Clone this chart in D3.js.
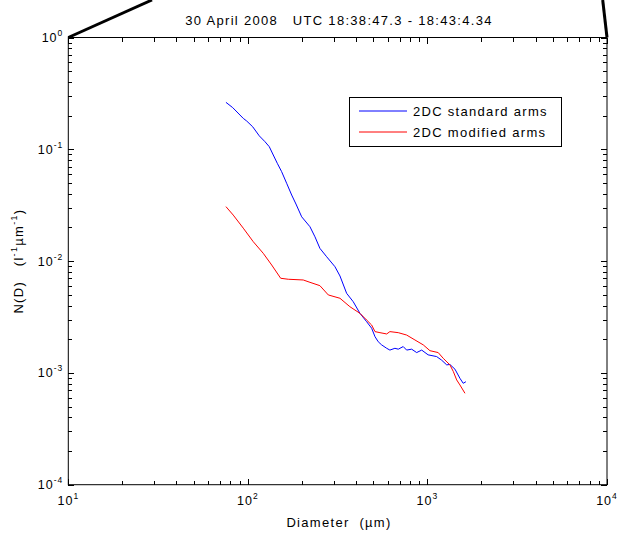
<!DOCTYPE html>
<html>
<head>
<meta charset="utf-8">
<script src="https://cdn.jsdelivr.net/npm/d3@7"></script>
<style>
  body { margin: 0; background: #fff; }
  text { font-family: "Liberation Sans", Arial, sans-serif; fill: #000; white-space: pre; }
</style>
</head>
<body>
<div id="chart"></div>
<script>
// data (diameter in um, N(D) in l^-1 um^-1)
const standardD = [75.5, 82.3, 94.3, 98.5, 106.4, 115.7, 124.5, 131.6, 138.5, 145.8, 154.2, 164.4, 175.4, 185.3, 199.4, 221.7, 236.4, 251.9, 274.6, 305.5, 325.8, 354.8, 386.2, 420.9, 458.6, 489, 510.5, 532, 556, 593, 618, 659, 688, 733, 766, 817, 871, 929, 1009, 1125, 1200, 1280, 1334, 1423, 1517, 1582, 1638]
const standardN = [0.263, 0.236, 0.189, 0.179, 0.159, 0.132, 0.117, 0.1055, 0.0889, 0.075, 0.0631, 0.0497, 0.039, 0.0324, 0.0249, 0.0203, 0.0165, 0.013, 0.01094, 0.00891, 0.00736, 0.00515, 0.00433, 0.00341, 0.00287, 0.00251, 0.00211, 0.0019, 0.00178, 0.00166, 0.0016, 0.00166, 0.00163, 0.00172, 0.0016, 0.00163, 0.00152, 0.0016, 0.00145, 0.0014, 0.0013, 0.00118, 0.00119, 0.00108, 0.000895, 0.000807, 0.000834]

const modifiedD = [75.5, 82.9, 94.3, 107.2, 121.8, 135.7, 152.3, 167.9, 203.4, 221.7, 251.9, 280.5, 325.8, 370, 420.9, 458.6, 489, 510.5, 544, 593, 618, 688, 766, 852, 948, 1033, 1148, 1225, 1334, 1393, 1455, 1517, 1618]
const modifiedN = [0.0307, 0.0258, 0.0197, 0.0149, 0.01174, 0.00923, 0.00702, 0.00688, 0.00678, 0.00646, 0.00603, 0.00498, 0.00465, 0.00391, 0.00341, 0.00297, 0.00268, 0.00234, 0.00229, 0.00223, 0.00234, 0.00229, 0.00218, 0.00197, 0.00178, 0.00158, 0.00152, 0.00135, 0.00118, 0.00103, 0.000865, 0.00078, 0.000657]

const xTicks = [10, 100, 1000, 10000]
const yTicks = [1, 0.1, 0.01, 0.001, 0.0001]
const seriesNames = ["2DC standard arms", "2DC modified arms"]
const seriesColors = ["#0000ff", "#ff0000"]

const width = 620
const height = 536
const margin = ({ top: 37.5, right: 13, bottom: 51.3, left: 68.3 })
const spacing = 1.3 // the original font runs wide

const svg = d3.select("#chart")
    .append("svg")
    .attr("width", width)
    .attr("height", height)

// scales
const xScale = d3.scaleLog()
    .domain([10, 10000])
    .range([margin.left, width - margin.right])

const yScale = d3.scaleLog()
    .domain([0.0001, 1])
    .range([height - margin.bottom, margin.top])

// minor ticks 2..9 of each decade
const minorX = d3.range(1, 4).flatMap(e => d3.range(2, 10).map(m => m * Math.pow(10, e)))
const minorY = d3.range(-4, 0).flatMap(e => d3.range(2, 10).map(m => m * Math.pow(10, e)))

const plotW = width - margin.left - margin.right
const plotH = height - margin.top - margin.bottom

// axes on all four sides, ticks pointing inward
function addAxis(axis, tx, ty, values, len) {
    svg.append("g")
        .attr("transform", "translate(" + tx + "," + ty + ")")
        .call(axis.tickValues(values).tickSize(-len).tickFormat(""))
        .call(g => g.select(".domain").remove())
        .call(g => g.selectAll("line").attr("stroke", "#000").attr("shape-rendering", "crispEdges"))
}
[[xTicks, 6], [minorX, 4]].forEach(([v, len]) => {
    addAxis(d3.axisBottom(xScale), 0, height - margin.bottom, v, len)
    addAxis(d3.axisTop(xScale), 0, margin.top, v, len)
})
;[[yTicks, 6], [minorY, 4]].forEach(([v, len]) => {
    addAxis(d3.axisLeft(yScale), margin.left, 0, v, len)
    addAxis(d3.axisRight(yScale), width - margin.right, 0, v, len)
})

// box
svg.append("rect")
    .attr("x", margin.left)
    .attr("y", margin.top)
    .attr("width", plotW)
    .attr("height", plotH)
    .attr("fill", "none")
    .attr("stroke", "#000")
    .attr("stroke-width", 1)

// tick labels like 10^n
const xLab = svg.append("g").selectAll("text")
    .data(xTicks)
    .join("text")
    .attr("x", d => xScale(d))
    .attr("y", height - margin.bottom + 20)
    .attr("text-anchor", "middle")
    .attr("font-size", 12.5)
    .attr("letter-spacing", 1)
xLab.append("tspan").text("10")
xLab.append("tspan").attr("dy", -6).attr("font-size", 8.5).text(d => Math.round(Math.log10(d)))

const yLab = svg.append("g").selectAll("text")
    .data(yTicks)
    .join("text")
    .attr("x", margin.left - 5)
    .attr("y", d => yScale(d) + 4.5)
    .attr("text-anchor", "end")
    .attr("font-size", 12.5)
    .attr("letter-spacing", 1)
yLab.append("tspan").text("10")
yLab.append("tspan").attr("dy", -6).attr("font-size", 8.5).text(d => Math.round(Math.log10(d)))

// lines
const line = d3.line()
    .x(d => xScale(d[0]))
    .y(d => yScale(d[1]))

const series = [d3.zip(standardD, standardN), d3.zip(modifiedD, modifiedN)]

svg.append("g").selectAll("path")
    .data(series)
    .join("path")
    .attr("d", line)
    .attr("fill", "none")
    .attr("stroke", (d, i) => seriesColors[i])
    .attr("stroke-width", 1)

// legend
const legend = svg.append("g")
legend.append("rect")
    .attr("x", 349.5).attr("y", 97.5)
    .attr("width", 212).attr("height", 49)
    .attr("fill", "#fff").attr("stroke", "#000")
seriesNames.forEach((name, i) => {
    legend.append("line")
        .attr("x1", 359).attr("x2", 407)
        .attr("y1", 111 + i * 21).attr("y2", 111 + i * 21)
        .attr("stroke", seriesColors[i])
    legend.append("text")
        .attr("x", 413).attr("y", 115.5 + i * 21)
        .attr("font-size", 13)
        .attr("letter-spacing", spacing)
        .text(name)
})

// title + axis labels
svg.append("text")
    .attr("x", 339).attr("y", 25)
    .attr("text-anchor", "middle")
    .attr("font-size", 13)
    .attr("letter-spacing", spacing)
    .text("30 April 2008   UTC 18:38:47.3 - 18:43:4.34")

svg.append("text")
    .attr("x", 339).attr("y", 527)
    .attr("text-anchor", "middle")
    .attr("font-size", 13)
    .attr("letter-spacing", spacing)
    .text("Diameter  (\u00b5m)")

const yTitle = svg.append("text")
    .attr("transform", "translate(23," + (margin.top + plotH / 2) + ") rotate(-90)")
    .attr("text-anchor", "middle")
    .attr("font-size", 13)
    .attr("letter-spacing", spacing)
yTitle.append("tspan").text("N(D)   (l")
yTitle.append("tspan").attr("dy", -6).attr("font-size", 9).text("-1")
yTitle.append("tspan").attr("dy", 6).text("\u00b5m")
yTitle.append("tspan").attr("dy", -6).attr("font-size", 9).text("-1")
yTitle.append("tspan").attr("dy", 6).text(")")

// thick black lines running off the top (part of the original figure)
svg.append("g").selectAll("line")
    .data([[margin.left, margin.top, 152, 0], [width - margin.right, margin.top, 602.7, 0]])
    .join("line")
    .attr("x1", d => d[0]).attr("y1", d => d[1])
    .attr("x2", d => d[2]).attr("y2", d => d[3])
    .attr("stroke", "#000")
    .attr("stroke-width", 3)
</script>
</body>
</html>
